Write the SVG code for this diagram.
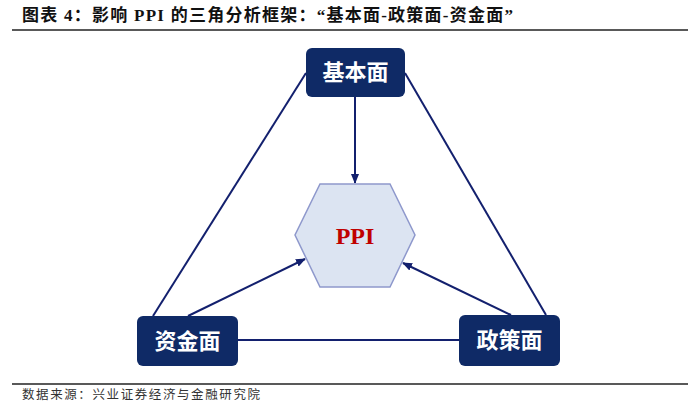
<svg xmlns="http://www.w3.org/2000/svg" width="700" height="405" viewBox="0 0 700 405">
<style>
.title{font-family:"Liberation Serif","Noto Sans CJK SC",serif;font-weight:bold;font-size:17px;fill:#111}
.foot{font-family:"Liberation Serif","Noto Sans CJK SC",serif;font-size:12.5px;fill:#333}
.node rect{fill:#0F2A66;stroke:none}
.node text{font-family:"Noto Sans CJK SC",sans-serif;font-weight:bold;font-size:22px;fill:#fff;text-anchor:middle}
.conn{stroke:#13206E;stroke-width:2;fill:none}
.rule{stroke:#222;stroke-width:1.5}
</style>
<defs>
<marker id="ah" markerWidth="10" markerHeight="8" refX="9" refY="4" orient="auto" markerUnits="userSpaceOnUse">
<path d="M0,0 L10,4 L0,8 Z" fill="#13206E"/>
</marker>
</defs>
<rect width="700" height="405" fill="#fff"/>
<text class="title" x="22" y="21" textLength="491" lengthAdjust="spacing">图表 4：影响 PPI 的三角分析框架：“基本面-政策面-资金面”</text>
<line class="rule" x1="12" y1="30" x2="688" y2="30"/>
<g id="connectors">
<line class="conn" x1="306" y1="73" x2="153" y2="316"/>
<line class="conn" x1="405" y1="73" x2="546" y2="315"/>
<line class="conn" x1="238" y1="340" x2="459" y2="340"/>
<line class="conn" x1="355" y1="97" x2="355" y2="183" marker-end="url(#ah)"/>
<line class="conn" x1="188" y1="316" x2="305" y2="259" marker-end="url(#ah)"/>
<line class="conn" x1="511" y1="315" x2="403" y2="263" marker-end="url(#ah)"/>
</g>
<g id="ppi">
<polygon points="320,184 390,184 415,235 390,287 320,287 295,235" fill="#DCE4F2" stroke="#8E98CC" stroke-width="1.5"/>
<text x="355" y="244" font-family="Liberation Serif,serif" font-weight="bold" font-size="24" fill="#C00000" text-anchor="middle">PPI</text>
</g>
<g id="jibenmian" class="node">
<rect x="306" y="48" width="99" height="49" rx="6"/>
<text x="355.5" y="80">基本面</text>
</g>
<g id="zijinmian" class="node">
<rect x="137" y="316" width="101" height="50" rx="6"/>
<text x="187.5" y="349">资金面</text>
</g>
<g id="zhengcemian" class="node">
<rect x="459" y="315" width="101" height="51" rx="6"/>
<text x="509.5" y="348">政策面</text>
</g>
<line class="rule" x1="12" y1="384" x2="688" y2="384"/>
<text class="foot" x="22" y="399" textLength="238" lengthAdjust="spacing">数据来源：兴业证券经济与金融研究院</text>
</svg>
